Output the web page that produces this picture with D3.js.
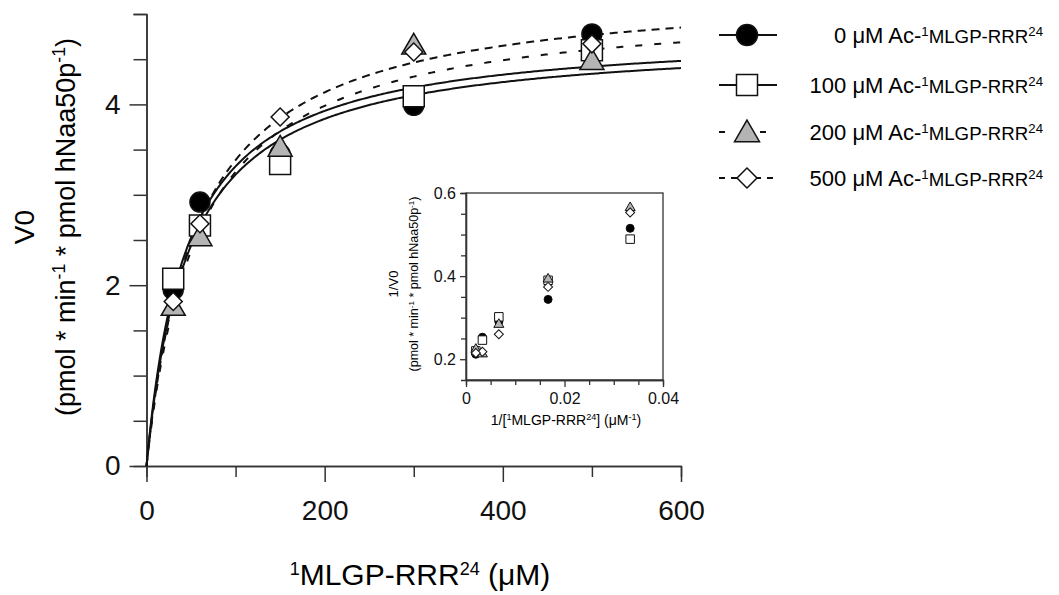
<!DOCTYPE html>
<html>
<head>
<meta charset="utf-8">
<script src="https://cdn.jsdelivr.net/npm/d3@7"></script>
<style>
  body { margin: 0; background: #fff; }
  svg { display: block; font-family: "Liberation Sans", Arial, sans-serif; }
  .axis path, .axis line { stroke: #333; stroke-width: 1.5; }
  .axis text { fill: #111; }
</style>
</head>
<body>
<svg width="1059" height="595"></svg>
<script>
// substrate concentrations (uM)
var substrate = [30, 60, 150, 300, 500];
// initial velocities, one array per inhibitor concentration
var v0uM   = [1.95, 2.92, 3.45, 3.99, 4.78];
var v100uM = [2.07, 2.66, 3.34, 4.09, 4.60];
var v200uM = [1.77, 2.54, 3.53, 4.66, 4.49];
var v500uM = [1.82, 2.68, 3.86, 4.58, 4.67];
// inset: 1/V0 values at the same substrate points
var inv0uM   = [0.515, 0.344, 0.290, 0.253, 0.212];
var inv100uM = [0.489, 0.390, 0.302, 0.246, 0.220];
var inv200uM = [0.567, 0.395, 0.286, 0.215, 0.226];
var inv500uM = [0.553, 0.374, 0.260, 0.218, 0.215];
// fitted Michaelis-Menten parameters per series
var vmax = [4.82, 4.75, 5.14, 5.31];
var km   = [45.4, 47.4, 58.0, 56.9];
var inhibitors = ["0", "100", "200", "500"];

var xTicks = [0, 200, 400, 600], xMinor = [100, 300, 500];
var yTicks = [0, 2, 4], yMinor = [0.5, 1, 1.5, 2.5, 3, 3.5, 4.5, 5];
var inXTicks = [0, 0.02, 0.04], inXMinor = [0.005, 0.01, 0.015, 0.025, 0.03, 0.035];
var inYTicks = [0.2, 0.4, 0.6], inYMinor = [0.25, 0.3, 0.35, 0.45, 0.5, 0.55];

var svg = d3.select("svg");
var x = d3.scaleLinear().domain([0, 600]).range([146.5, 681]);
var y = d3.scaleLinear().domain([0, 5]).range([466, 14]);

var series = [
    { name: inhibitors[0], v: v0uM, inv: inv0uM, shape: "circle", fill: "#000", dash: null, legDash: null },
    { name: inhibitors[1], v: v100uM, inv: inv100uM, shape: "square", fill: "#fff", dash: null, legDash: null },
    { name: inhibitors[2], v: v200uM, inv: inv200uM, shape: "triangle", fill: "#b4b4b4", dash: "7,12", legDash: "6,35" },
    { name: inhibitors[3], v: v500uM, inv: inv500uM, shape: "diamond", fill: "#fff", dash: "8,6", legDash: "6,6" }
];

function symbolPath(shape, w) {
    if (shape == "circle") return d3.symbol(d3.symbolCircle, Math.PI * w * w / 4)();
    if (shape == "square") return d3.symbol(d3.symbolSquare, w * w)();
    if (shape == "triangle") return d3.symbol(d3.symbolTriangle, Math.sqrt(3) / 4 * w * w)();
    return d3.symbol(d3.symbolSquare, w * w / 2)();
}
function drawMarker(g, shape, w, fill, cx, cy, sw) {
    g.append("path")
        .attr("d", symbolPath(shape, w))
        .attr("transform", "translate(" + cx + "," + cy + ")" + (shape == "diamond" ? " rotate(45)" : "") +
            (shape == "triangle" ? " translate(0," + (w * 0.1) + ")" : ""))
        .attr("fill", fill)
        .attr("stroke", "#111")
        .attr("stroke-width", sw);
}

// ---- main axes
var gx = svg.append("g").attr("class", "axis").attr("transform", "translate(0,466)");
gx.append("g").call(d3.axisBottom(x).tickValues(xMinor).tickSize(11).tickFormat(""));
gx.append("g").call(d3.axisBottom(x).tickValues(xTicks).tickSize(16).tickPadding(18).tickSizeOuter(0).tickFormat(d3.format("d")))
    .attr("font-size", 28).attr("font-family", null);

var gy = svg.append("g").attr("class", "axis").attr("transform", "translate(146.5,0)");
gy.append("g").call(d3.axisLeft(y).tickValues(yMinor).tickSize(13).tickFormat(""));
gy.append("g").call(d3.axisLeft(y).tickValues(yTicks).tickSize(17).tickPadding(9).tickSizeOuter(0).tickFormat(d3.format("d")))
    .attr("font-size", 28).attr("font-family", null);

// axis titles
var xt = svg.append("text").attr("x", 420).attr("y", 585).attr("text-anchor", "middle").attr("font-size", 30);
xt.append("tspan").attr("baseline-shift", "super").attr("font-size", "0.6em").text("1");
xt.append("tspan").text("MLGP-RRR");
xt.append("tspan").attr("baseline-shift", "super").attr("font-size", "0.6em").text("24");
xt.append("tspan").text(" (μM)");

var yt = svg.append("g").attr("transform", "translate(0,227) rotate(-90)");
yt.append("text").attr("y", 34).attr("text-anchor", "middle").attr("font-size", 28).text("V0");
var yt2 = yt.append("text").attr("y", 75).attr("text-anchor", "middle").attr("font-size", 27);
yt2.append("tspan").text("(pmol * min");
yt2.append("tspan").attr("baseline-shift", "super").attr("font-size", "0.65em").text("-1");
yt2.append("tspan").text(" * pmol hNaa50p");
yt2.append("tspan").attr("baseline-shift", "super").attr("font-size", "0.65em").text("-1");
yt2.append("tspan").text(")");

// ---- fitted curves
var line = d3.line().x(function(d) { return x(d[0]); }).y(function(d) { return y(d[1]); });
series.forEach(function(s, i) {
    var pts = d3.range(0, 601, 2).map(function(c) { return [c, vmax[i] * c / (km[i] + c)]; });
    svg.append("path")
        .datum(pts)
        .attr("d", line)
        .attr("fill", "none")
        .attr("stroke", "#111")
        .attr("stroke-width", 2)
        .attr("stroke-dasharray", s.dash);
});

// ---- main markers
var sizes = { circle: 20, square: 21, triangle: 24, diamond: 18 };
var gm = svg.append("g");
series.forEach(function(s) {
    s.v.forEach(function(v, j) {
        drawMarker(gm, s.shape, sizes[s.shape], s.fill, x(substrate[j]), y(v), 1.5);
    });
});

// ---- inset
var xi = d3.scaleLinear().domain([0, 0.04]).range([466, 663]);
var yi = d3.scaleLinear().domain([0.15, 0.6]).range([380, 193]);
svg.append("rect").attr("x", 466).attr("y", 193).attr("width", 197).attr("height", 187)
    .attr("fill", "none").attr("stroke", "#333").attr("stroke-width", 1.3);
var gix = svg.append("g").attr("class", "axis").attr("transform", "translate(0,380)");
gix.append("g").call(d3.axisBottom(xi).tickValues(inXMinor).tickSize(5).tickFormat(""));
gix.append("g").call(d3.axisBottom(xi).tickValues(inXTicks).tickSize(7).tickPadding(6).tickSizeOuter(0)
        .tickFormat(function(d) { return d == 0 ? "0" : d3.format(".2f")(d); }))
    .attr("font-size", 16).attr("font-family", null);
var giy = svg.append("g").attr("class", "axis").attr("transform", "translate(466,0)");
giy.append("g").call(d3.axisLeft(yi).tickValues(inYMinor).tickSize(5).tickFormat(""));
giy.append("g").call(d3.axisLeft(yi).tickValues(inYTicks).tickSize(6).tickPadding(4).tickSizeOuter(0)
        .tickFormat(d3.format(".1f")))
    .attr("font-size", 16).attr("font-family", null);
gix.selectAll("path, line").style("stroke-width", 1.3);
giy.selectAll("path, line").style("stroke-width", 1.3);

var ixt = svg.append("text").attr("x", 566).attr("y", 425).attr("text-anchor", "middle").attr("font-size", 14);
ixt.append("tspan").text("1/[");
ixt.append("tspan").attr("baseline-shift", "super").attr("font-size", "0.65em").text("1");
ixt.append("tspan").text("MLGP-RRR");
ixt.append("tspan").attr("baseline-shift", "super").attr("font-size", "0.65em").text("24");
ixt.append("tspan").text("] (μM");
ixt.append("tspan").attr("baseline-shift", "super").attr("font-size", "0.65em").text("-1");
ixt.append("tspan").text(")");

var iyt = svg.append("g").attr("transform", "translate(0,284) rotate(-90)");
iyt.append("text").attr("y", 398).attr("text-anchor", "middle").attr("font-size", 13).text("1/V0");
var iyt2 = iyt.append("text").attr("y", 418).attr("text-anchor", "middle").attr("font-size", 12.5);
iyt2.append("tspan").text("(pmol * min");
iyt2.append("tspan").attr("baseline-shift", "super").attr("font-size", "0.65em").text("-1");
iyt2.append("tspan").text(" * pmol hNaa50p");
iyt2.append("tspan").attr("baseline-shift", "super").attr("font-size", "0.65em").text("-1");
iyt2.append("tspan").text(")");

var inSizes = { circle: 8, square: 8.5, triangle: 10, diamond: 9 };
var gim = svg.append("g");
series.forEach(function(s) {
    s.inv.forEach(function(v, j) {
        drawMarker(gim, s.shape, inSizes[s.shape], s.fill, xi(1 / substrate[j]), yi(v), 1);
    });
});

// ---- legend
var legY = [35, 85, 132, 178];
var gl = svg.append("g");
series.forEach(function(s, i) {
    gl.append("line")
        .attr("x1", 719).attr("x2", 777).attr("y1", legY[i]).attr("y2", legY[i])
        .attr("stroke", "#111").attr("stroke-width", 2)
        .attr("stroke-dasharray", s.legDash);
    drawMarker(gl, s.shape, s.shape == "triangle" ? 25 : (s.shape == "diamond" ? 20 : 21), s.fill, 747, legY[i], 1.5);
    var t = gl.append("text").attr("x", 1043).attr("y", legY[i] + 8).attr("text-anchor", "end").attr("font-size", 22);
    t.append("tspan").text(s.name + " μM Ac-");
    t.append("tspan").attr("baseline-shift", "super").attr("font-size", "0.6em").text("1");
    t.append("tspan").attr("font-size", "0.85em").text("MLGP-RRR");
    t.append("tspan").attr("baseline-shift", "super").attr("font-size", "0.6em").text("24");
});
</script>
</body>
</html>
